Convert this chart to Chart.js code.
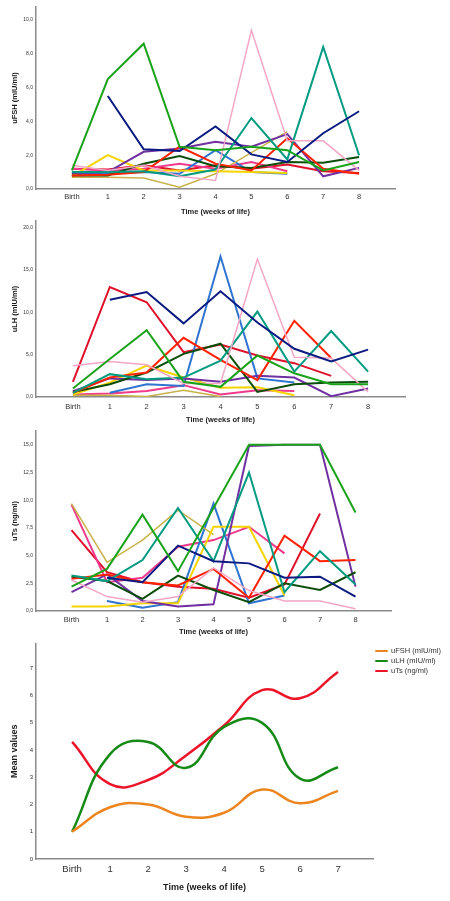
<!DOCTYPE html>
<html lang="en">
<head>
<meta charset="UTF-8">
<title>Urinary uFSH, uLH and uTs by week of life</title>
<script src="https://cdn.jsdelivr.net/npm/chart.js@4.4.1/dist/chart.umd.min.js"></script>
<style>
  body { margin: 0; background: #fff; width: 450px; height: 901px; position: relative; overflow: hidden;
         font-family: "Liberation Sans", Arial, sans-serif; }
  canvas { position: absolute; left: 0; }
  #legend { position: absolute; left: 375px; top: 646px; font-size: 7.5px; color: #333; line-height: 10px; }
  #legend div { white-space: nowrap; }
  #legend span { display: inline-block; width: 13px; height: 2px; border-radius: 2px; margin-right: 3px; vertical-align: middle; }
</style>
</head>
<body>
<canvas id="fsh" width="450" height="220" style="top:0"></canvas>
<canvas id="lh" width="450" height="210" style="top:215px"></canvas>
<canvas id="ts" width="450" height="212" style="top:425px"></canvas>
<canvas id="mean" width="450" height="264" style="top:637px"></canvas>
<div id="legend"></div>
<script>
// one colour per infant, same order in every panel
const subjectColors = ['#1aa31a', '#0a1a80', '#f4a6c6', '#009b80', '#ff2200', '#0b4d0b',
                       '#7030a0', '#f5d400', '#c8b24a', '#2f74d0', '#f03a8c', '#e0102a'];
const weeks = [0, 1, 2, 3, 4, 5, 6, 7, 8];   // 0 = Birth

const uFSH = [
  [1.1, 6.5, 8.6, 2.5, 2.3, 2.5, 2.3, 1.1, 1.6],
  [null, 5.5, 2.35, 2.25, 3.7, 2.05, 1.6, 3.3, 4.6],
  [1.4, 1.1, 1.4, 0.75, 0.5, 9.4, 2.85, 2.85, 1.1],
  [1.0, 1.0, 1.05, 0.75, 1.15, 4.2, 1.75, 8.4, 2.0],
  [0.8, 0.85, 1.0, 2.5, 1.5, 1.1, 3.0, 1.2, 0.9],
  [0.8, 0.8, 1.5, 1.95, 1.35, 1.25, 1.6, 1.55, 1.9],
  [0.95, 1.0, 2.2, 2.4, 2.8, 2.5, 3.25, 0.75, 1.25],
  [0.75, 2.0, 1.1, 1.1, 1.05, 1.0, 0.95, null, null],
  [0.7, 0.7, 0.65, 0.1, 0.9, 2.15, 3.4, null, null],
  [0.9, 0.9, 1.0, 0.9, 2.3, 1.0, 0.9, null, null],
  [1.2, 1.1, 1.2, 1.5, 1.2, 1.6, 1.05, null, null],
  [1.2, 1.15, 1.4, 1.1, 1.4, 1.2, 1.45, 1.05, 0.95]
];
const uLH = [
  [1.0, 4.5, 7.9, 1.8, 1.2, 4.9, 2.8, 1.5, 1.5],
  [null, 11.5, 12.4, 8.7, 12.5, 8.8, 5.7, 4.2, 5.6],
  [3.7, 4.2, 3.8, 1.6, 1.6, 16.3, 4.7, 4.6, 0.6],
  [0.5, 2.7, 2.1, 2.3, 4.3, 10.1, 3.0, 7.8, 3.0],
  [0.5, 2.3, 2.9, 7.0, 4.4, 2.0, 9.0, 4.6, null],
  [0.6, 1.5, 2.9, 5.1, 6.3, 0.6, 1.5, 1.7, 1.8],
  [0.7, 2.2, 2.0, 2.2, 1.8, 2.5, 2.3, 0.1, 1.0],
  [0.3, 1.7, 3.7, 2.3, 1.1, 1.15, 0.2, null, null],
  [0.2, 0.2, 0.05, 0.8, 0.05, null, null, null, null],
  [null, 0.5, 1.5, 1.3, 16.6, 2.2, 1.7, null, null],
  [0.3, 0.4, 0.7, 1.4, 0.3, 0.8, 0.7, null, null],
  [1.8, 13.0, 11.2, 5.3, 6.2, 4.9, 4.0, 2.5, null]
];
const uTs = [
  [2.2, 3.8, 8.7, 3.6, 9.3, 15.0, 15.0, 15.0, 8.9],
  [null, 3.0, 2.6, 5.9, 4.5, 4.3, 3.0, 3.1, 1.3],
  [2.8, 1.3, 0.8, 1.3, 3.9, 1.85, 0.9, 0.9, 0.2],
  [3.2, 2.7, 4.6, 9.3, 4.5, 12.5, 1.7, 5.4, 2.4],
  [2.9, 3.3, 2.6, 2.3, 3.8, 1.2, 6.8, 4.5, 4.6],
  [3.1, 2.7, 1.1, 3.2, 1.9, 0.8, 2.5, 1.9, 3.5],
  [1.7, 3.3, 0.9, 0.4, 0.6, 14.9, 15.0, 15.0, 2.2],
  [0.4, 0.4, 0.7, 0.7, 7.6, 7.6, 1.4, null, null],
  [9.7, 4.4, 6.4, 9.1, 6.9, null, null, null, null],
  [null, 0.9, 0.3, 0.8, 9.7, 0.7, 1.4, null, null],
  [9.6, 2.6, 3.0, 5.8, 6.4, 7.6, 5.2, null, null],
  [7.3, 3.5, 2.6, 2.2, 2.0, 1.2, 2.4, 8.8, null]
];

const fshTicks = [0, 2, 4, 6, 8, 10];
const lhTicks = [0, 5, 10, 15, 20];
const tsTicks = [0, 2.5, 5, 7.5, 10, 12.5, 15];

const meanWeeks = [0, 1, 2, 3, 4, 5, 6, 7];
const meanFSH = [1.0, 1.9, 2.0, 1.55, 1.7, 2.55, 2.05, 2.5];
const meanLH = [1.0, 3.85, 4.3, 3.35, 4.85, 5.0, 2.95, 3.37];
const meanTs = [4.3, 2.75, 2.9, 3.8, 4.9, 6.2, 5.9, 6.87];
const meanNames = ['uFSH (mIU/ml)', 'uLH (mIU/ml)', 'uTs (ng/ml)'];
const meanColors = ['#ec8420', '#168a16', '#ec1428'];
const meanTicks = [0, 1, 2, 3, 4, 5, 6, 7];

const FONT = '"Liberation Sans", Arial, sans-serif';
const axisLine = { display: true, color: '#8a8a8a', width: 1.5 };

function points(xs, ys) {
  return xs.map((x, i) => ({ x: x, y: ys[i] }));
}

function scalesFor(p) {
  return {
    x: {
      type: 'linear', min: p.xmin, max: p.xmax,
      afterBuildTicks: s => { s.ticks = p.xticks.map(v => ({ value: v })); },
      afterFit: s => { s.height = p.xh; },
      grid: { display: false, drawTicks: false },
      border: axisLine,
      ticks: { padding: p.xpad, color: '#333', autoSkip: false, maxRotation: 0,
               font: { family: FONT, size: p.xfs }, callback: v => v === 0 ? 'Birth' : String(v) },
      title: { display: true, text: 'Time (weeks of life)', color: '#1a1a1a',
               font: { family: FONT, size: p.tfs, weight: 'bold' }, padding: { top: 0, bottom: p.tpb } }
    },
    y: {
      min: 0, max: p.ymax,
      afterBuildTicks: s => { s.ticks = p.yticks.map(v => ({ value: v })); },
      afterFit: s => { s.width = 36; },
      grid: { display: false, drawTicks: false },
      border: axisLine,
      ticks: { padding: 3, color: '#333', font: { family: FONT, size: p.yfs }, callback: p.yfmt },
      title: { display: true, text: p.ytitle, color: '#1a1a1a',
               font: { family: FONT, size: p.tfs, weight: 'bold' }, padding: { top: p.ytp, bottom: 0 } }
    }
  };
}

function commaFmt(v) { return v.toFixed(1).replace('.', ','); }

function spaghetti(id, rows, p) {
  new Chart(document.getElementById(id), {
    type: 'line',
    data: {
      datasets: rows.map((r, i) => ({
        data: points(weeks, r),
        borderColor: subjectColors[i],
        borderWidth: (i === 2 || i === 8) ? 1.5 : 2,
        pointRadius: 0, tension: 0, spanGaps: false
      }))
    },
    options: {
      responsive: false, animation: false,
      layout: { padding: { top: p.top, right: p.right, left: 0, bottom: 0 } },
      plugins: { legend: { display: false }, tooltip: { enabled: false } },
      scales: scalesFor(p)
    }
  });
}

const base = { xmin: -1, xmax: 9, xticks: weeks, xfs: 7.5, yfs: 5, tfs: 7.5, ytp: 10, yfmt: commaFmt };

spaghetti('fsh', uFSH, Object.assign({}, base, {
  top: 7, right: 55, xh: 31, xpad: 3, tpb: 4, ymax: 10.77, yticks: fshTicks, ytitle: 'uFSH (mIU/ml)'
}));
spaghetti('lh', uLH, Object.assign({}, base, {
  top: 3, right: 45, xh: 28, xpad: 5, tpb: 1, ymax: 20.8, yticks: lhTicks, ytitle: 'uLH (mIU/ml)'
}));
spaghetti('ts', uTs, Object.assign({}, base, {
  top: 4, right: 59, xh: 26, xpad: 4, tpb: 1, ymax: 16.25, yticks: tsTicks, ytitle: 'uTs (ng/ml)'
}));

// means panel
const meanSeries = [meanFSH, meanLH, meanTs];
new Chart(document.getElementById('mean'), {
  type: 'line',
  data: {
    datasets: meanSeries.map((s, i) => ({
      label: meanNames[i],
      data: points(meanWeeks, s),
      borderColor: meanColors[i],
      borderWidth: 2.5, pointRadius: 0, tension: 0.45
    }))
  },
  options: {
    responsive: false, animation: false,
    layout: { padding: { top: 5, right: 77, left: 0, bottom: 0 } },
    plugins: { legend: { display: false }, tooltip: { enabled: false } },
    scales: scalesFor({
      xmin: -0.95, xmax: 7.92, xticks: meanWeeks, xh: 42, xpad: 5, xfs: 9.5, tfs: 9, tpb: 8,
      ymax: 7.91, yticks: meanTicks, yfs: 6, ytp: 9, ytitle: 'Mean values', yfmt: v => String(v)
    })
  }
});

const legend = document.getElementById('legend');
meanNames.forEach((n, i) => {
  const row = document.createElement('div');
  row.innerHTML = '<span style="background:' + meanColors[i] + '"></span>' + n;
  legend.appendChild(row);
});
</script>
</body>
</html>
